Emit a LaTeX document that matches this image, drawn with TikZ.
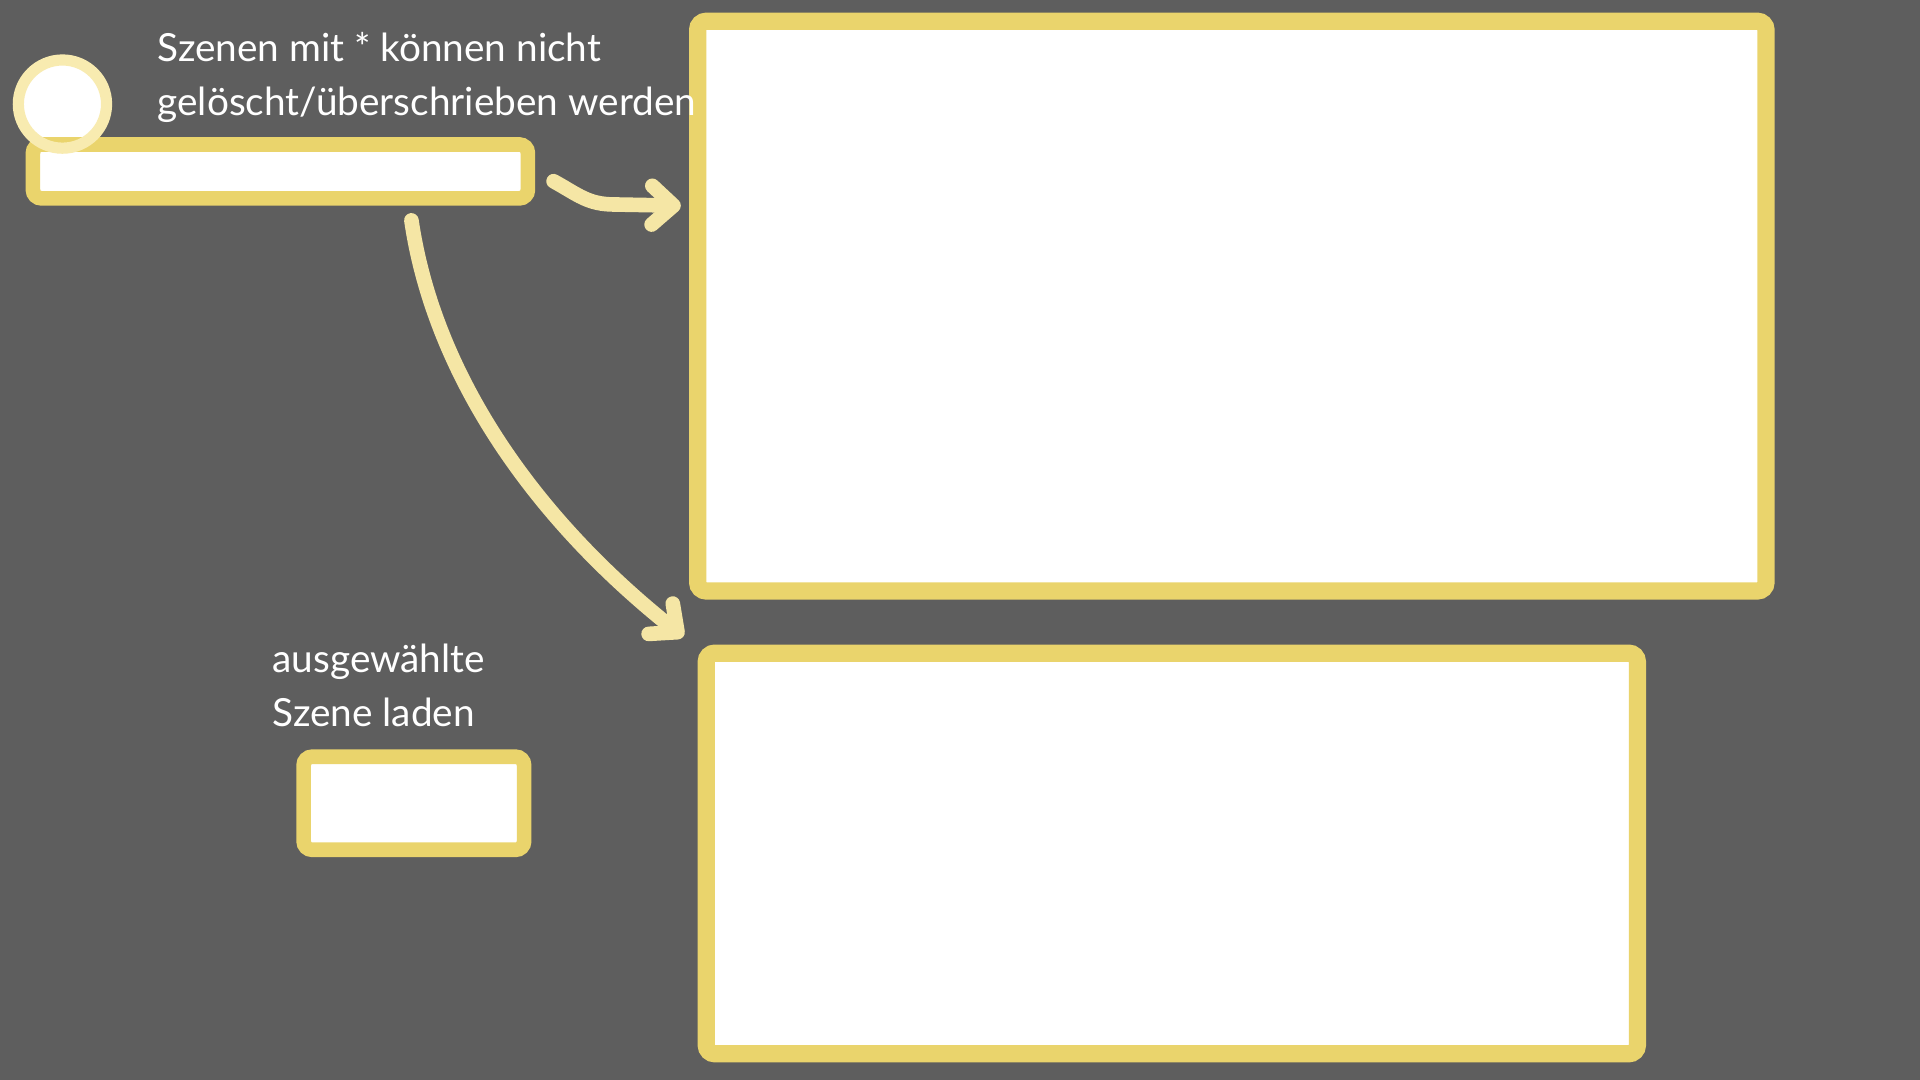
\documentclass[tikz,border=0pt]{standalone}
\usepackage{fontspec}
\setmainfont{Lato}
\usetikzlibrary{arrows.meta}
\definecolor{slate}{HTML}{5E5E5E}
\definecolor{marker}{HTML}{EAD46C}
\definecolor{pale}{HTML}{F5E6A5}
\definecolor{halo}{HTML}{F8EBB0}
\tikzstyle{panel} =
        [
                rectangle,
                draw = marker,
                fill = white,
                line width = 4pt,
                rounded corners = 2pt,
                inner sep = 0pt
        ]
\tikzstyle{button} =
        [
                panel,
                line width = 3.4pt
        ]
\tikzstyle{ring} =
        [
                draw = halo,
                line width = 2.6pt
        ]
\tikzstyle{link} =
        [
                draw = pale,
                line width = 3.4pt,
                line cap = round,
                -{Straight Barb[length = 5pt, width = 9pt, line cap = round, line join = round]}
        ]
\tikzstyle{note} =
        [
                text = white,
                align = left,
                anchor = north west,
                inner sep = 0pt,
                font = \fontsize{9}{12.5}\selectfont
        ]
\begin{document}
\begin{tikzpicture}[x = 0.01cm, y = -0.01cm]
        \useasboundingbox [fill = slate] (0,0) rectangle (1568,882);
        \node [circle, fill = white, minimum size = 0.72cm, inner sep = 0pt] (ball) at (51,85) {};
        \node [button, minimum width = 4.04cm, minimum height = 0.44cm] (bar) at (229,140) {};
        \draw [ring] (ball.center) circle [radius = 0.36cm];
        \node [panel, minimum width = 8.72cm, minimum height = 4.65cm] (scene) at (1006,250) {};
        \node [panel, minimum width = 7.60cm, minimum height = 3.27cm] (preview) at (957,697) {};
        \node [button, minimum width = 1.80cm, minimum height = 0.76cm] (load) at (338,656) {};
        \node [note] (hint) at (128,26) {Szenen mit * können nicht\\gelöscht/überschrieben werden};
        \node [note] (loadtext) at (222,525) {ausgewählte\\Szene laden};
        \coordinate (tipscene) at (556,168);
        \coordinate (grip) at (336,180);
        \coordinate (tippreview) at (558,520);

        \path [link] ([shift = {(15,8)}]bar.east) .. controls +(20,11) and +(-22,0) .. (502,167) -- (tipscene);
        \path [link] (grip) .. controls (352,290) and (420,410) .. (tippreview);
\end{tikzpicture}
\end{document}
